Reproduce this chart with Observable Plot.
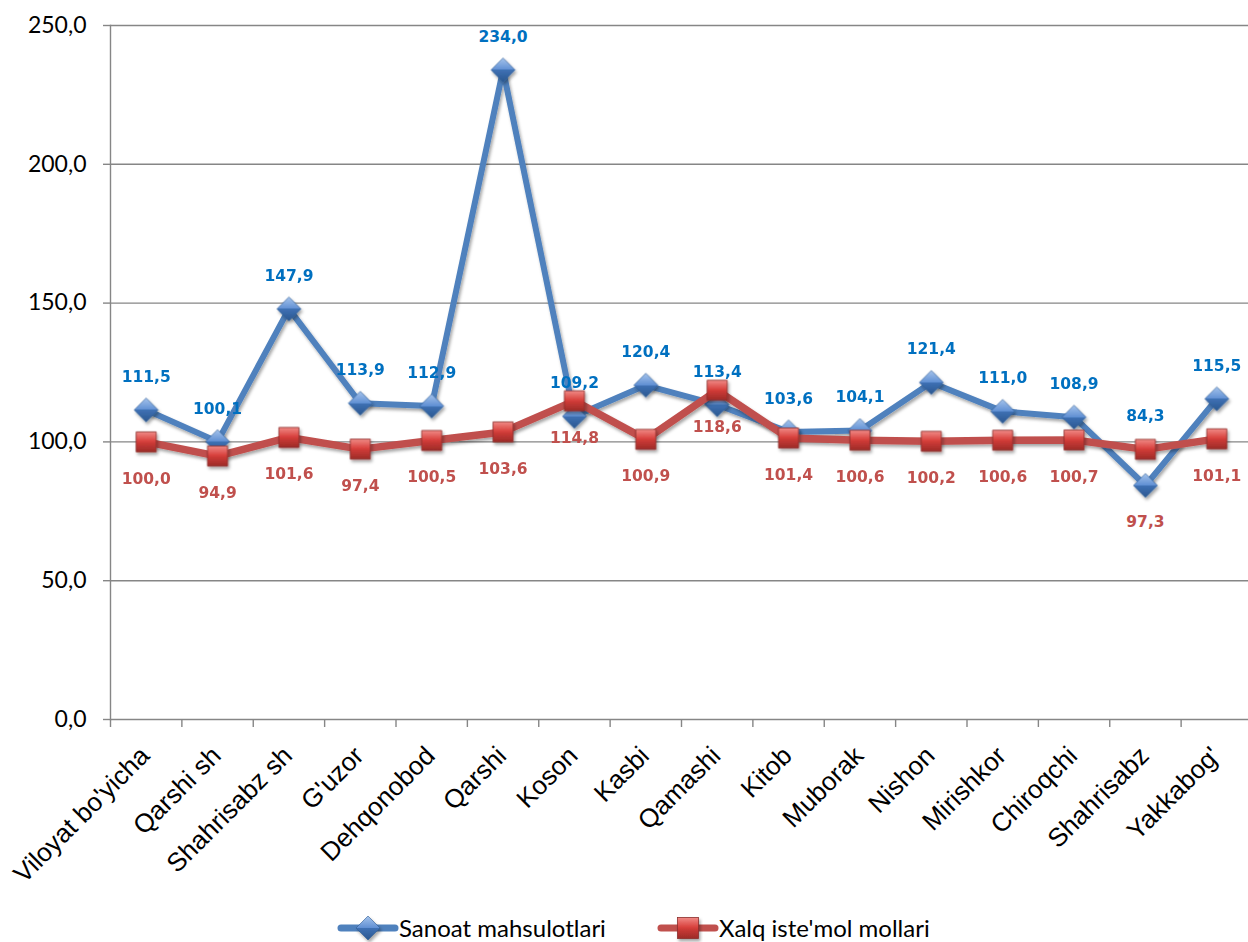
<!DOCTYPE html>
<html>
<head>
<meta charset="utf-8">
<script src="https://cdn.jsdelivr.net/npm/d3@7"></script>
<script src="https://cdn.jsdelivr.net/npm/@observablehq/plot@0.6"></script>
<style>
  body { margin: 0; background: #fff; }
  #wrap { position: relative; width: 1248px; height: 942px; overflow: hidden; background: #fff; }
  #legend { position: absolute; left: 0; top: 913px; width: 1248px; height: 30px; font-family: Lato, "Noto Sans", sans-serif; font-size: 24px; color: #000; }
  .li { position: absolute; top: 0; height: 30px; display: flex; align-items: center; }
  .li svg { display: block; }
  .li span { line-height: 30px; white-space: nowrap; }
</style>
</head>
<body>
<div id="wrap">
  <div id="chart"></div>
  <div id="legend"></div>
</div>
<script>
const categories = ["Viloyat bo'yicha","Qarshi sh","Shahrisabz sh","G'uzor","Dehqonobod","Qarshi","Koson","Kasbi","Qamashi","Kitob","Muborak","Nishon","Mirishkor","Chiroqchi","Shahrisabz","Yakkabog'"];
const sanoat = [111.5,100.1,147.9,113.9,112.9,234.0,109.2,120.4,113.4,103.6,104.1,121.4,111.0,108.9,84.3,115.5];
const xalq = [100.0,94.9,101.6,97.4,100.5,103.6,114.8,100.9,118.6,101.4,100.6,100.2,100.6,100.7,97.3,101.1];
const yTicks = [0,50,100,150,200,250];
const seriesNames = ["Sanoat mahsulotlari","Xalq iste'mol mollari"];

const fmt = v => v.toFixed(1).replace(".", ",");
const rows = categories.map((c, i) => ({c, s: sanoat[i], x: xalq[i]}));
// when the blue point sits well below the red one, swap label anchors to avoid overlap
const swap = r => r.s < r.x - 10;
const blueLabelY = r => swap(r) ? r.x : r.s;
const redLabelY = r => swap(r) ? r.s : r.x;

const BLUE = "#4F81BD", RED = "#C0504D", GRID = "#868686";
const half = 1142 / 16 / 2;
const ARIAL = "Liberation Sans";
const LABELFONT = "DejaVu Sans";

const svg = Plot.plot({
  width: 1248,
  height: 905,
  marginTop: 25,
  marginBottom: 186,
  marginLeft: 110,
  marginRight: 0,
  x: {type: "point", domain: categories, range: [110, 1252], padding: 0.5, round: false},
  y: {domain: [0, 250], range: [719, 25]},
  style: {fontFamily: ARIAL, background: "#fff", color: "#000", overflow: "visible"},
  marks: [
    Plot.ruleY(yTicks, {stroke: GRID, strokeWidth: 1.4}),
    Plot.frame({anchor: "left", stroke: GRID, strokeWidth: 1.4}),
    Plot.axisY({ticks: yTicks, tickSize: 7, tickPadding: 17, tickFormat: fmt, stroke: GRID, strokeWidth: 1.4, fill: "#000", fontSize: 23, fontFamily: "Lato", label: null}),
    Plot.axisX({tickSize: 8, tickFormat: () => "", dx: -half, stroke: GRID, strokeWidth: 1.4, label: null}),
    Plot.axisX({tickSize: 0, tickPadding: 32, tickRotate: -45, dx: -1, fontSize: 26, fontFamily: ARIAL, fill: "#000", label: null}),
    Plot.line(rows, {x: "c", y: "s", stroke: BLUE, strokeWidth: 6, strokeLinejoin: "round"}),
    Plot.dot(rows, {x: "c", y: "s", symbol: "diamond2", r: 10.8, fill: "url(#gB)", stroke: "#2f5d93", strokeWidth: 0.6}),
    Plot.line(rows, {x: "c", y: "x", stroke: RED, strokeWidth: 7.5, strokeLinejoin: "round"}),
    Plot.dot(rows, {x: "c", y: "x", symbol: "square", r: 11.3, fill: "url(#gR)", stroke: "#8c2f2c", strokeWidth: 0.8}),
    Plot.text(rows, {x: "c", y: blueLabelY, text: r => fmt(r.s), dy: -33, fill: "#0070C0", fontWeight: "bold", fontSize: 15.5, fontFamily: LABELFONT}),
    Plot.text(rows, {x: "c", y: redLabelY, text: r => fmt(r.x), dy: 37, fill: RED, fontWeight: "bold", fontSize: 15.5, fontFamily: LABELFONT})
  ]
});

const ns = "http://www.w3.org/2000/svg";
const defs = document.createElementNS(ns, "defs");
defs.innerHTML = `
  <linearGradient id="gB" x1="0" y1="0" x2="0" y2="1">
    <stop offset="0" stop-color="#a6c4ec"/>
    <stop offset="0.5" stop-color="#5f8fd3"/>
    <stop offset="0.5" stop-color="#3f71b4"/>
    <stop offset="1" stop-color="#2a5790"/>
  </linearGradient>
  <linearGradient id="gR" x1="0" y1="0" x2="0" y2="1">
    <stop offset="0" stop-color="#f08a86"/>
    <stop offset="0.45" stop-color="#d9433f"/>
    <stop offset="0.55" stop-color="#cc3a36"/>
    <stop offset="1" stop-color="#9c2b28"/>
  </linearGradient>
  <filter id="sh" x="-20%" y="-20%" width="140%" height="140%">
    <feDropShadow dx="1.5" dy="2.5" stdDeviation="1.8" flood-color="#000" flood-opacity="0.35"/>
  </filter>`;
svg.insertBefore(defs, svg.firstChild);
svg.querySelectorAll('g[aria-label="line"], g[aria-label="dot"]').forEach(g => g.setAttribute("filter", "url(#sh)"));
document.getElementById("chart").appendChild(svg);

// legend
const legend = document.getElementById("legend");
function item(left, color, marker, name) {
  const d = document.createElement("div");
  d.className = "li";
  d.style.left = left + "px";
  d.innerHTML = `<svg width="62" height="30" viewBox="0 0 62 30">
    <line x1="4" y1="15" x2="58" y2="15" stroke="${color}" stroke-width="7" stroke-linecap="round"/>
    ${marker}
  </svg><span>${name}</span>`;
  legend.appendChild(d);
}
item(337, BLUE, `<path d="M31,3 L43,15 L31,27 L19,15 Z" fill="url(#gB)" stroke="#2f5d93" stroke-width="0.6" filter="url(#sh)"/>`, seriesNames[0]);
item(657, RED, `<rect x="20.5" y="4.5" width="21" height="21" fill="url(#gR)" stroke="#8c2f2c" stroke-width="0.8" filter="url(#sh)"/>`, seriesNames[1]);
</script>
</body>
</html>
